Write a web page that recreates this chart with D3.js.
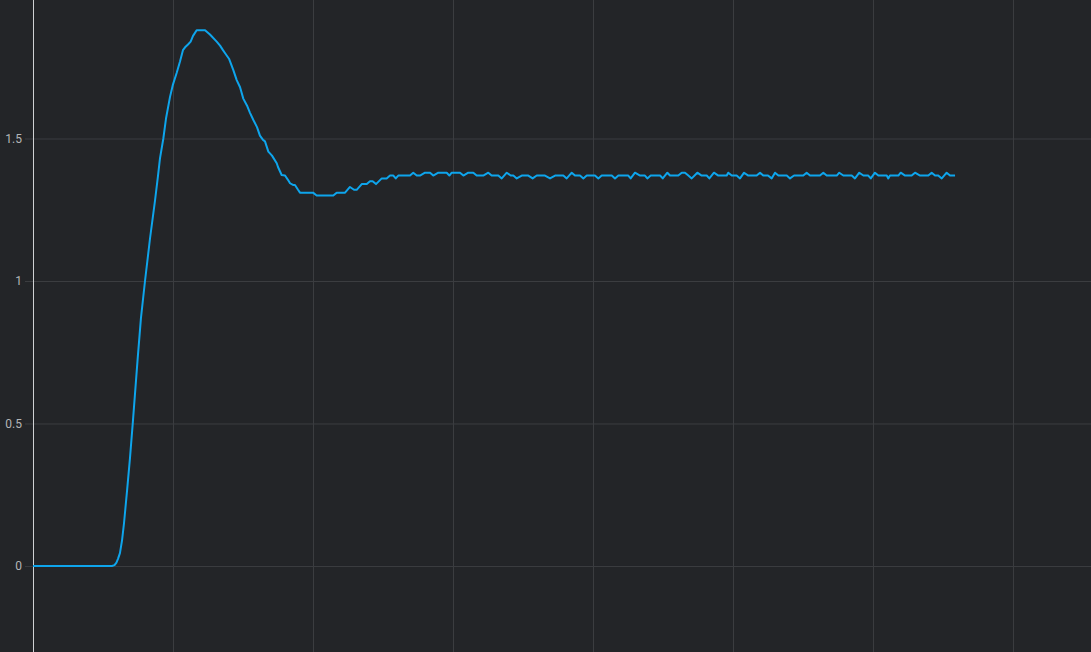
<!DOCTYPE html>
<html>
<head>
<meta charset="utf-8">
<script src="https://cdn.jsdelivr.net/npm/d3@7"></script>
<style>
  html, body { margin: 0; padding: 0; background: #232528; overflow: hidden; }
  #chart { width: 1091px; height: 652px; }
  .tick text { font-family: Roboto, "Liberation Sans", sans-serif; }
</style>
</head>
<body>
<div id="chart"></div>
<script>
// step response samples: time (grid every 10) and measured value
var times = [0, 5.64, 5.82, 5.96, 6.07, 6.21, 6.36, 6.50, 6.71, 6.93, 7.14, 7.48, 7.71, 8.00, 8.36, 8.71, 8.93, 9.07, 9.31, 9.50,
  9.79, 10.00, 10.26, 10.50, 10.71, 10.86, 11.07, 11.26, 11.43, 11.69, 12.29, 12.64, 13.12, 13.36, 13.57, 13.71, 14.00, 14.31, 14.55, 14.79,
  15.02, 15.29, 15.50, 15.74, 16.00, 16.21, 16.43, 16.57, 16.81, 17.07, 17.41, 17.50, 17.76, 18.00, 18.21, 18.36, 18.57, 18.71, 18.93, 19.07,
  20.00, 20.26, 21.45, 21.69, 22.29, 22.64, 22.93, 23.12, 23.48, 23.84, 24.07, 24.26, 24.50, 24.91, 25.26, 25.50, 25.74, 25.91, 26.09, 26.93,
  27.16, 27.41, 27.64, 28.00, 28.36, 28.59, 28.95, 29.55, 29.74, 29.91, 30.50, 30.74, 31.09, 31.45, 31.69, 32.16, 32.52, 32.76, 33.24, 33.48,
  33.84, 34.12, 34.31, 34.55, 34.91, 35.38, 35.69, 35.98, 36.57, 36.93, 37.29, 37.88, 38.12, 38.48, 38.71, 39.07, 39.31, 39.55, 40.14, 40.38,
  40.62, 41.34, 41.57, 41.81, 42.52, 42.69, 43.00, 43.36, 43.71, 43.88, 44.12, 44.79, 44.98, 45.31, 45.50, 46.09, 46.34, 46.57, 46.81, 47.05,
  47.45, 47.76, 48.12, 48.31, 48.64, 48.95, 49.55, 49.66, 49.91, 50.26, 50.50, 50.79, 51.09, 51.69, 51.93, 52.16, 52.50, 52.76, 53.00, 53.24,
  53.84, 54.07, 54.36, 55.02, 55.26, 55.50, 56.21, 56.45, 56.69, 57.41, 57.59, 57.88, 58.48, 58.71, 59.02, 59.31, 59.66, 59.84, 60.14, 60.38,
  60.98, 61.09, 61.21, 61.81, 61.98, 62.29, 62.76, 63.00, 63.36, 63.95, 64.19, 64.43, 64.66, 64.91, 65.26, 65.50, 65.86];

var values = [0, 0, 0.003, 0.012, 0.025, 0.045, 0.09, 0.15, 0.26, 0.38, 0.51, 0.73, 0.87, 1.0, 1.15, 1.28, 1.37, 1.43, 1.50, 1.57,
  1.647, 1.69, 1.73, 1.77, 1.81, 1.82, 1.83, 1.84, 1.86, 1.88, 1.88, 1.865, 1.84, 1.826, 1.81, 1.80, 1.78, 1.74, 1.705, 1.68,
  1.64, 1.615, 1.59, 1.565, 1.54, 1.51, 1.495, 1.49, 1.454, 1.44, 1.413, 1.40, 1.372, 1.37, 1.355, 1.343, 1.337, 1.337, 1.32, 1.31,
  1.31, 1.30, 1.30, 1.31, 1.31, 1.33, 1.32, 1.32, 1.34, 1.34, 1.35, 1.35, 1.34, 1.36, 1.36, 1.37, 1.37, 1.36, 1.37, 1.37,
  1.38, 1.37, 1.37, 1.38, 1.38, 1.37, 1.38, 1.38, 1.37, 1.38, 1.38, 1.37, 1.38, 1.38, 1.37, 1.37, 1.38, 1.37, 1.37, 1.36,
  1.38, 1.37, 1.37, 1.36, 1.37, 1.37, 1.36, 1.37, 1.37, 1.36, 1.37, 1.37, 1.36, 1.38, 1.37, 1.37, 1.36, 1.37, 1.37, 1.36,
  1.37, 1.37, 1.36, 1.37, 1.37, 1.36, 1.38, 1.37, 1.37, 1.36, 1.37, 1.37, 1.36, 1.38, 1.37, 1.37, 1.38, 1.38, 1.37, 1.36,
  1.38, 1.37, 1.37, 1.36, 1.38, 1.37, 1.37, 1.38, 1.37, 1.37, 1.36, 1.38, 1.37, 1.37, 1.38, 1.37, 1.37, 1.36, 1.38, 1.37,
  1.37, 1.36, 1.37, 1.37, 1.38, 1.37, 1.37, 1.38, 1.37, 1.37, 1.38, 1.37, 1.37, 1.36, 1.38, 1.37, 1.37, 1.36, 1.38, 1.37,
  1.37, 1.36, 1.37, 1.37, 1.38, 1.37, 1.37, 1.38, 1.37, 1.37, 1.38, 1.37, 1.37, 1.36, 1.38, 1.37, 1.37];

var yTicks = [0, 0.5, 1, 1.5];
var xTicks = [10, 20, 30, 40, 50, 60, 70];

var margin = {top: 0, right: 0, bottom: 0, left: 33},
    width = 1091 - margin.left - margin.right,
    height = 652 - margin.top - margin.bottom;

var svg = d3.select("#chart")
  .append("svg")
    .attr("width", width + margin.left + margin.right)
    .attr("height", height + margin.top + margin.bottom)
  .append("g")
    .attr("transform", "translate(" + margin.left + "," + margin.top + ")");

var x = d3.scaleLinear()
    .domain([0, 75.57])
    .range([0, width]);

var y = d3.scaleLinear()
    .domain([-0.3018, 1.986])
    .range([height, 0]);

// vertical grid
svg.append("g")
    .attr("class", "xgrid")
    .call(d3.axisBottom(x).tickValues(xTicks).tickSize(height).tickFormat(""))
    .call(function(g) { g.select(".domain").remove(); })
    .selectAll("line")
      .attr("stroke", "#3b3d40");

// horizontal grid + labels
var yAxis = svg.append("g")
    .call(d3.axisLeft(y).tickValues(yTicks).tickSize(8).tickPadding(3).tickFormat(d3.format("")));
yAxis.select(".domain").remove();
yAxis.selectAll(".tick line")
    .attr("x2", width)
    .attr("x1", -8)
    .attr("stroke", "#3b3d40");
yAxis.selectAll(".tick text")
    .attr("fill", "#b4b6b8")
    .attr("font-size", 12);

// y axis line
svg.append("line")
    .attr("x1", 0.5).attr("x2", 0.5)
    .attr("y1", 0).attr("y2", height)
    .attr("stroke", "#cfd1d3")
    .attr("stroke-width", 1);

var data = times.map(function(t, i) { return {t: t, v: values[i]}; });

svg.append("path")
    .datum(data)
    .attr("fill", "none")
    .attr("stroke", "#0ea5ec")
    .attr("stroke-width", 2)
    .attr("stroke-linejoin", "round")
    .attr("d", d3.line()
        .x(function(d) { return x(d.t); })
        .y(function(d) { return y(d.v); }));
</script>
</body>
</html>
